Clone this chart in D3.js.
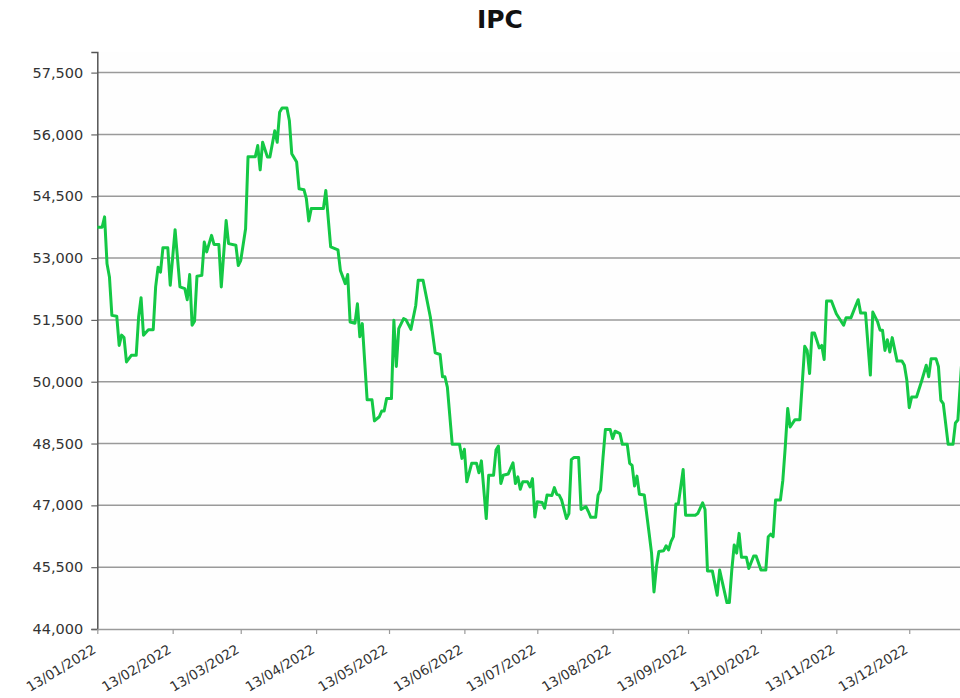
<!DOCTYPE html>
<html>
<head>
<meta charset="utf-8">
<script src="https://cdn.jsdelivr.net/npm/d3@7"></script>
<style>
  body { margin: 0; background: #fff; }
  text { font-family: "DejaVu Sans", Verdana, sans-serif; }
</style>
</head>
<body>
<div id="chart"></div>
<script>
let title = "IPC";

let dates = [
  "2022-01-13","2022-01-15","2022-01-16","2022-01-17","2022-01-18","2022-01-19","2022-01-21","2022-01-22","2022-01-23","2022-01-24",
  "2022-01-25","2022-01-27","2022-01-29","2022-01-30","2022-01-31","2022-02-01","2022-02-03","2022-02-05","2022-02-06","2022-02-07",
  "2022-02-08","2022-02-09","2022-02-11","2022-02-12","2022-02-14","2022-02-16","2022-02-18","2022-02-19","2022-02-20","2022-02-21",
  "2022-02-22","2022-02-23","2022-02-25","2022-02-26","2022-02-27","2022-03-01","2022-03-02","2022-03-04","2022-03-05","2022-03-07",
  "2022-03-08","2022-03-11","2022-03-12","2022-03-13","2022-03-15","2022-03-16","2022-03-19","2022-03-20","2022-03-21","2022-03-22",
  "2022-03-24","2022-03-25","2022-03-27","2022-03-28","2022-03-29","2022-03-30","2022-04-01","2022-04-02","2022-04-03","2022-04-05",
  "2022-04-06","2022-04-08","2022-04-09","2022-04-10","2022-04-11","2022-04-16","2022-04-17","2022-04-19","2022-04-22","2022-04-23",
  "2022-04-25","2022-04-26","2022-04-27","2022-04-29","2022-04-30","2022-05-01","2022-05-02","2022-05-04","2022-05-06","2022-05-07",
  "2022-05-09","2022-05-10","2022-05-11","2022-05-12","2022-05-14","2022-05-15","2022-05-16","2022-05-17","2022-05-19","2022-05-20",
  "2022-05-22","2022-05-24","2022-05-25","2022-05-27","2022-05-30","2022-06-01","2022-06-03","2022-06-04","2022-06-05","2022-06-06",
  "2022-06-08","2022-06-11","2022-06-12","2022-06-13","2022-06-14","2022-06-16","2022-06-18","2022-06-19","2022-06-20","2022-06-22",
  "2022-06-23","2022-06-25","2022-06-26","2022-06-27","2022-06-28","2022-06-29","2022-07-01","2022-07-03","2022-07-04","2022-07-05",
  "2022-07-06","2022-07-07","2022-07-09","2022-07-10","2022-07-11","2022-07-12","2022-07-13","2022-07-15","2022-07-16","2022-07-17",
  "2022-07-19","2022-07-20","2022-07-21","2022-07-22","2022-07-23","2022-07-25","2022-07-26","2022-07-27","2022-07-28","2022-07-30",
  "2022-07-31","2022-08-02","2022-08-03","2022-08-04","2022-08-06","2022-08-07","2022-08-08","2022-08-09","2022-08-10","2022-08-12",
  "2022-08-13","2022-08-14","2022-08-16","2022-08-17","2022-08-19","2022-08-20","2022-08-21","2022-08-22","2022-08-23","2022-08-24",
  "2022-08-26","2022-08-28","2022-08-29","2022-08-30","2022-08-31","2022-09-01","2022-09-03","2022-09-04","2022-09-05","2022-09-06",
  "2022-09-07","2022-09-08","2022-09-09","2022-09-11","2022-09-12","2022-09-16","2022-09-17","2022-09-19","2022-09-20","2022-09-21",
  "2022-09-23","2022-09-25","2022-09-26","2022-09-29","2022-09-30","2022-10-01","2022-10-02","2022-10-03","2022-10-04","2022-10-05",
  "2022-10-07","2022-10-08","2022-10-10","2022-10-11","2022-10-13","2022-10-15","2022-10-16","2022-10-17","2022-10-18","2022-10-19",
  "2022-10-21","2022-10-22","2022-10-23","2022-10-24","2022-10-25","2022-10-27","2022-10-29","2022-10-31","2022-11-01","2022-11-02",
  "2022-11-03","2022-11-04","2022-11-06","2022-11-07","2022-11-08","2022-11-09","2022-11-11","2022-11-13","2022-11-16","2022-11-17",
  "2022-11-19","2022-11-21","2022-11-22","2022-11-23","2022-11-25","2022-11-27","2022-11-28","2022-11-30","2022-12-01","2022-12-02",
  "2022-12-03","2022-12-04","2022-12-05","2022-12-06","2022-12-08","2022-12-10","2022-12-11","2022-12-12","2022-12-13","2022-12-14",
  "2022-12-16","2022-12-18","2022-12-20","2022-12-21","2022-12-22","2022-12-24","2022-12-25","2022-12-26","2022-12-27","2022-12-29",
  "2022-12-31","2023-01-01","2023-01-02","2023-01-03","2023-01-04"
];

let values = [
  53750,53750,54000,52860,52540,51610,51590,50880,51130,51070,
  50480,50640,50640,51570,52040,51130,51260,51260,52300,52780,
  52660,53250,53250,52340,53690,52300,52260,51990,52600,51370,
  51470,52560,52580,53390,53150,53550,53330,53330,52300,53910,
  53350,53310,52820,52940,53710,55460,55460,55730,55140,55810,
  55450,55450,56090,55810,56540,56640,56640,56340,55530,55330,
  54680,54660,54440,53900,54200,54200,54640,53270,53200,52700,
  52380,52600,51450,51420,51890,51090,51410,49560,49560,49050,
  49150,49290,49290,49590,49590,51490,50370,51290,51530,51500,
  51270,51850,52460,52460,51570,50700,50660,50120,50120,49870,
  48480,48480,48140,48360,47570,48020,48020,47790,48080,46680,
  47730,47730,48340,48440,47530,47730,47760,48030,47530,47690,
  47390,47570,47570,47450,47650,46720,47090,47070,46930,47250,
  47240,47430,47270,47250,47130,46680,46800,48110,48160,48160,
  46900,46970,46850,46710,46710,47250,47370,48140,48840,48840,
  48620,48800,48740,48480,48480,48020,47970,47470,47710,47270,
  47250,46320,45840,44900,45510,45880,45900,46020,45920,46120,
  46240,47030,47030,47870,46760,46760,46800,47060,46900,45410,
  45410,44820,45430,44640,44640,45430,46040,45840,46320,45740,
  45740,45470,45770,45770,45430,45430,46240,46300,46240,47130,
  47130,47610,48420,49350,48900,49080,49080,50860,50760,50200,
  51180,51180,50820,50880,50540,51960,51960,51650,51370,51550,
  51550,51850,51990,51670,51670,50160,51690,51450,51250,51250,
  50760,51020,50720,51070,50500,50500,50400,50040,49370,49630,
  49630,50000,50400,50120,50560,50560,50370,49550,49470,48480,
  48480,49000,49070,49960,50860
];

let yTicks = [44000, 45500, 47000, 48500, 50000, 51500, 53000, 54500, 56000, 57500];
let xTickDates = ["2022-01-13","2022-02-13","2022-03-13","2022-04-13","2022-05-13","2022-06-13",
                  "2022-07-13","2022-08-13","2022-09-13","2022-10-13","2022-11-13","2022-12-13"];

let width  = 960,
    height = 698;

let parse = d3.utcParse("%Y-%m-%d");
let rows = dates.map(function(d, i) { return { date: parse(d), value: values[i] }; });

let x =
  d3.scaleUtc()
    .domain([parse("2022-01-13"), parse("2023-01-03")])
    .range([97.3, 960.3]);

let y =
  d3.scaleLinear()
    .domain([44000, 58000])
    .range([629, 52]);

let svg =
  d3.select("#chart")
    .append("svg")
      .attr("width", width)
      .attr("height", height);

// plot background
svg.append("rect")
    .attr("x", x.range()[0])
    .attr("y", y(58000))
    .attr("width", width - x.range()[0])
    .attr("height", y(44000) - y(58000))
    .attr("fill", "#fefefe");

// grid
svg.append("g")
    .selectAll("line")
    .data(yTicks.slice(1))
    .enter()
  .append("line")
    .attr("x1", x.range()[0])
    .attr("x2", width)
    .attr("y1", function(d) { return y(d); })
    .attr("y2", function(d) { return y(d); })
    .attr("stroke", "#9a9a9a")
    .attr("stroke-width", 1.5);

// y axis
let yAxis =
  svg.append("g")
    .attr("transform", translate(x.range()[0], 0))
    .call(d3.axisLeft(y)
      .tickValues(yTicks)
      .tickSize(6)
      .tickPadding(8)
      .tickFormat(d3.format(",")));

yAxis.select(".domain").attr("stroke", "#555").attr("stroke-width", 1.5);
yAxis.selectAll(".tick line").attr("stroke", "#666").attr("stroke-width", 1.2);
yAxis.selectAll("text")
    .attr("fill", "#333")
    .style("font-size", "14.5px")
    .style("font-family", "DejaVu Sans, Verdana, sans-serif");

// x axis
let xAxis =
  svg.append("g")
    .attr("transform", translate(0, y(44000)))
    .call(d3.axisBottom(x)
      .tickValues(xTickDates.map(parse))
      .tickSize(5)
      .tickSizeOuter(0)
      .tickFormat(d3.utcFormat("%d/%m/%Y")));

xAxis.select(".domain").attr("stroke", "#9a9a9a").attr("stroke-width", 1.5);
xAxis.selectAll(".tick line").attr("stroke", "#9a9a9a").attr("stroke-width", 1.2);
xAxis.selectAll("text")
    .attr("fill", "#333")
    .style("font-size", "13.5px")
    .style("font-family", "DejaVu Sans, Verdana, sans-serif")
    .attr("text-anchor", "end")
    .attr("x", 0)
    .attr("y", 0)
    .attr("dx", 0)
    .attr("dy", 0)
    .attr("transform", translate(-1, 23) + " rotate(-31)");

// line
let line =
  d3.line()
    .x(function(d) { return x(d.date); })
    .y(function(d) { return y(d.value); });

svg.append("path")
    .datum(rows)
    .attr("d", line)
    .attr("fill", "none")
    .attr("stroke", "#14c845")
    .attr("stroke-width", 3)
    .attr("stroke-linejoin", "round");

// title
svg.append("text")
    .attr("x", 500)
    .attr("y", 28)
    .attr("text-anchor", "middle")
    .style("font-size", "25px")
    .style("font-weight", "bold")
    .attr("fill", "#111")
    .text(title);

function translate(x, y=0) {
  return "translate({x}, {y})"
          .replace("{x}", x)
          .replace("{y}", y);
}
</script>
</body>
</html>
